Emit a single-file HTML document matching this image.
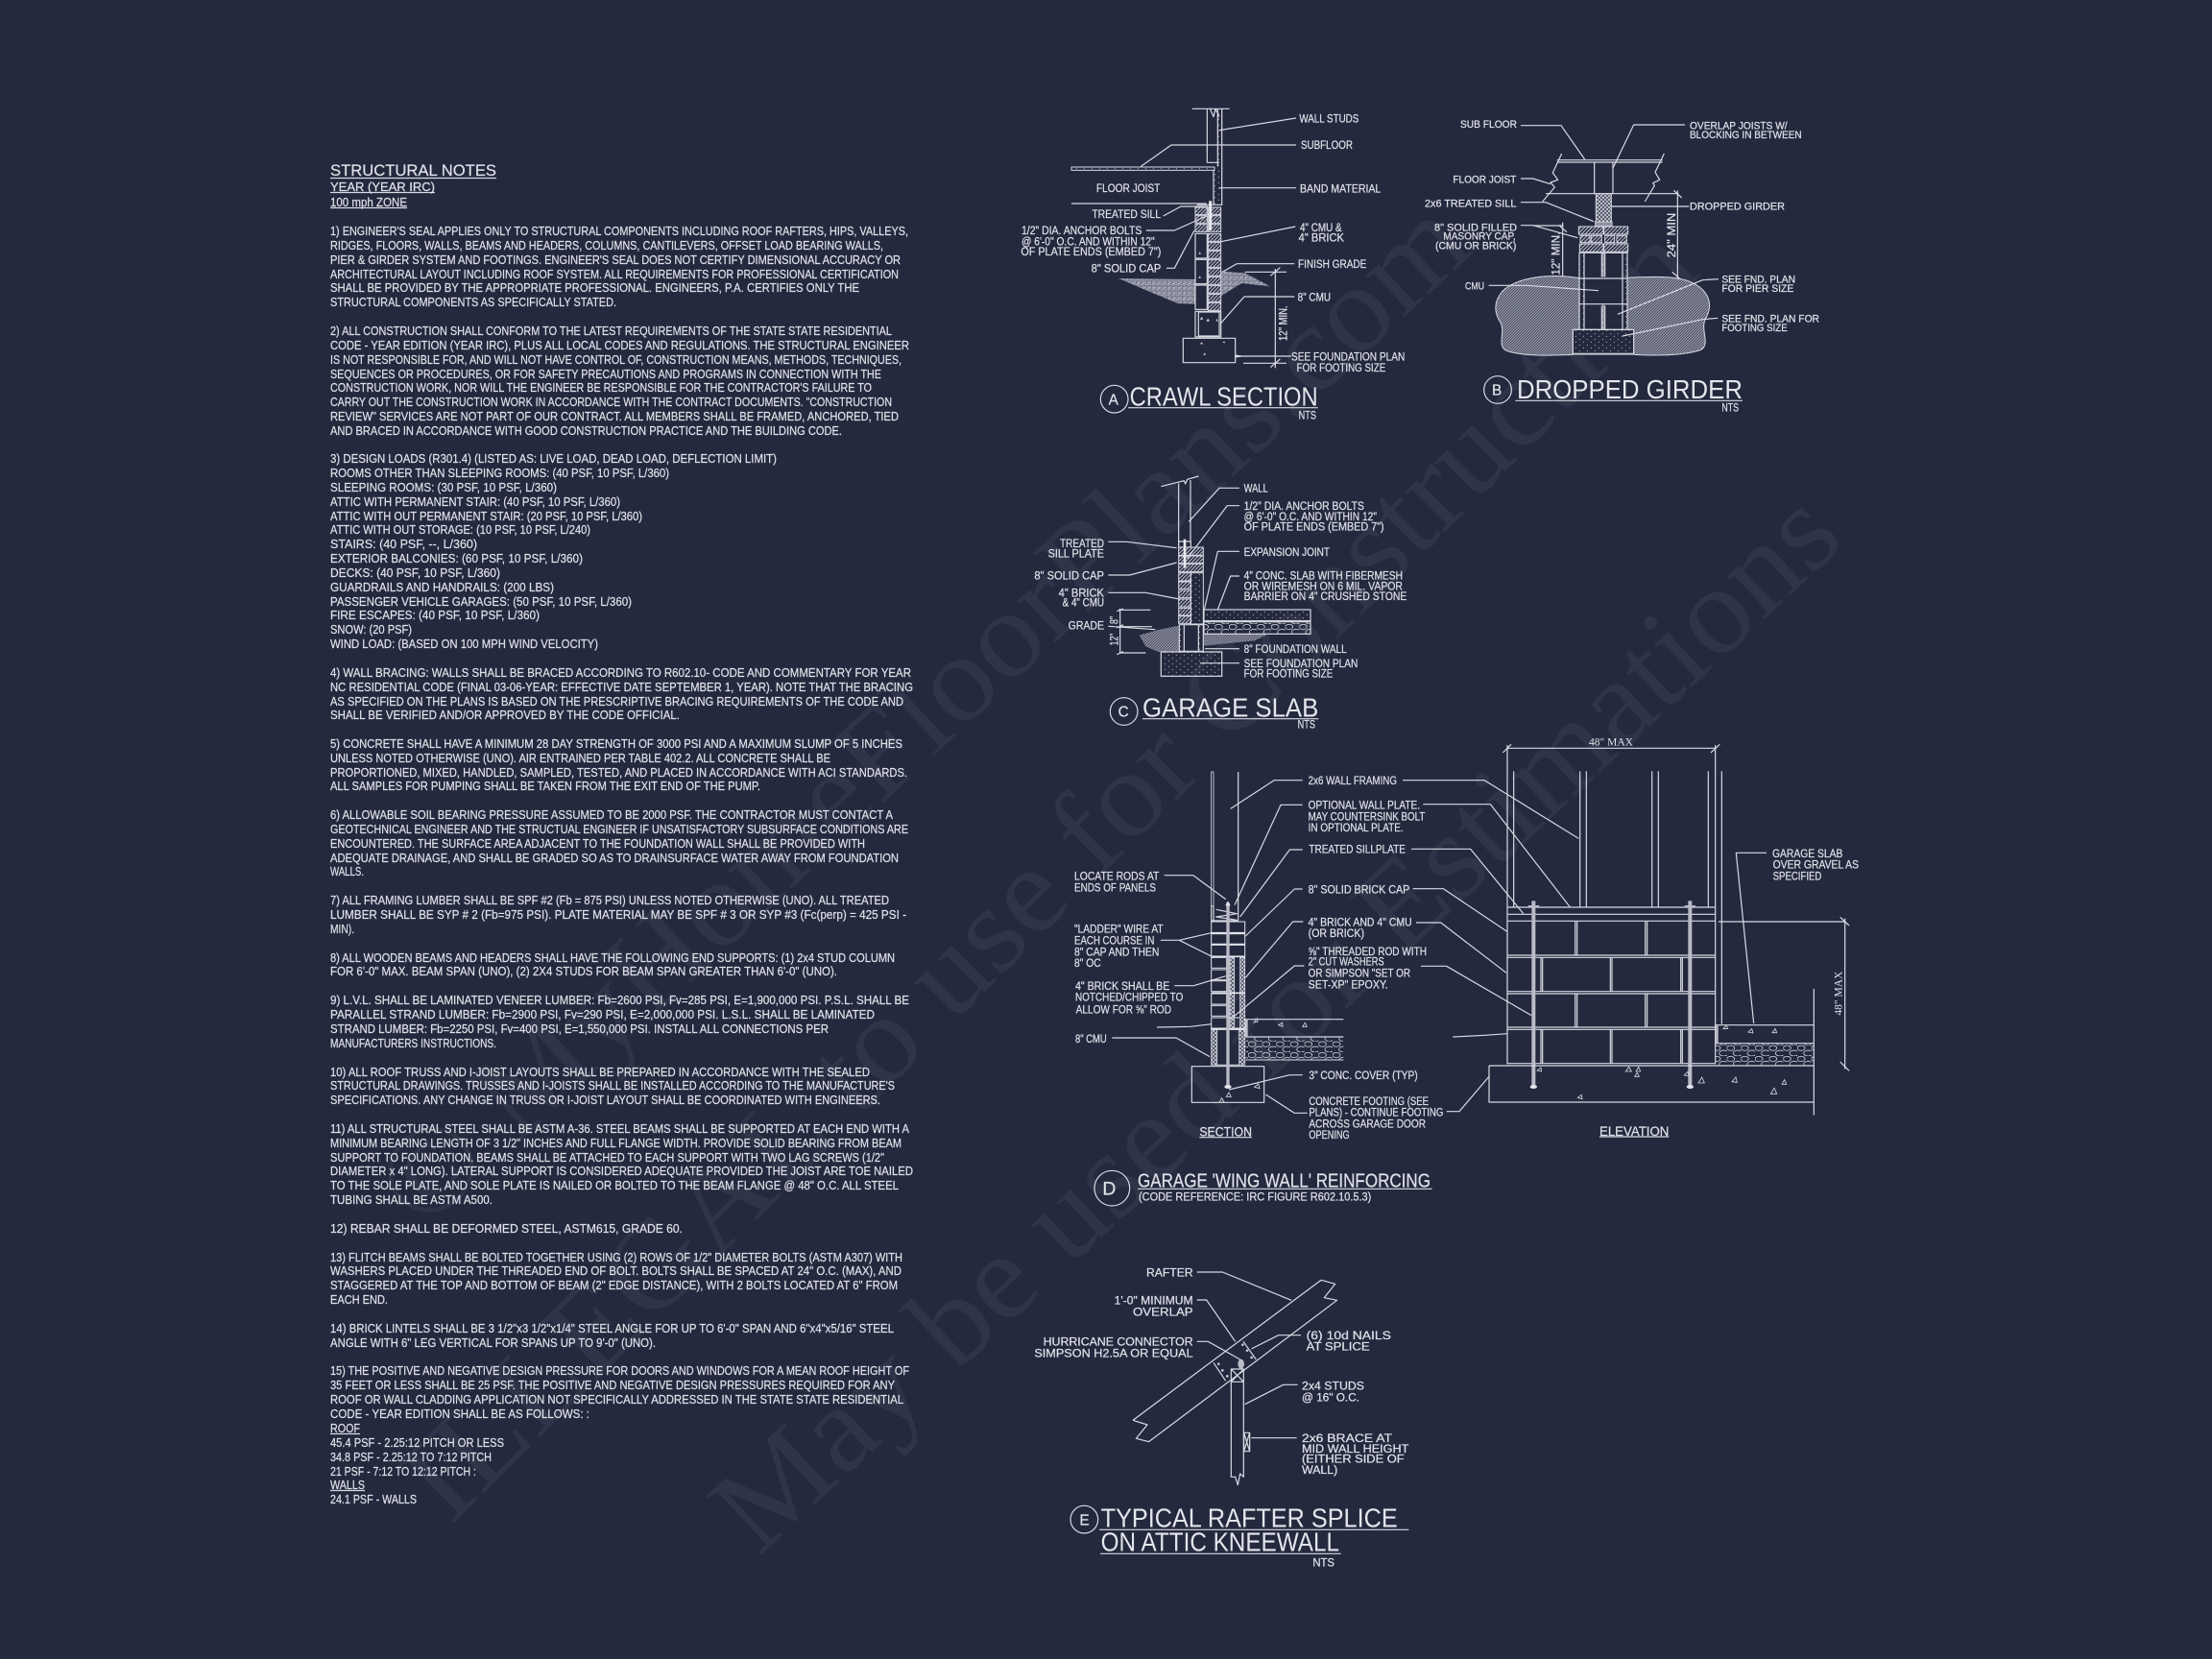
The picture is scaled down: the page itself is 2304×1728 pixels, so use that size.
<!DOCTYPE html>
<html><head><meta charset="utf-8"><title>Structural Notes and Details</title>
<style>
html,body{margin:0;padding:0;background:#24293e}
svg{display:block}
text{font-family:"Liberation Sans",sans-serif;fill:#dfe1e8}
.wm text{font-family:"Liberation Serif",serif;fill:#2f3448;font-size:128px}
.n text{font-size:12.8px;stroke:#dfe1e8;stroke-width:.22px}
.d{fill:none;stroke:#d8dae2;stroke-width:3.6;stroke-linejoin:round}
.z text{font-size:37px;stroke:#dfe1e8;stroke-width:.7px}
.z text.t{font-size:84px!important;fill:#e4e6ec;stroke:none}
.z text.ser{font-family:"Liberation Serif",serif!important;font-size:36px;stroke:none}
</style></head><body>
<svg xmlns="http://www.w3.org/2000/svg" width="2304" height="1728" viewBox="0 0 2304 1728">
<defs>
<pattern id="h" width="8" height="8" patternUnits="userSpaceOnUse" patternTransform="rotate(45)"><rect width="8" height="8" fill="#24293e"/><rect width="3" height="8" fill="#c8cad4"/></pattern>
<pattern id="s" width="6" height="6" patternUnits="userSpaceOnUse" patternTransform="rotate(45)"><rect width="6" height="6" fill="#3f4358"/><rect width="2.600" height="6" fill="#b4b6c2"/></pattern>
<pattern id="b" width="16" height="16" patternUnits="userSpaceOnUse"><rect width="16" height="16" fill="#6c6f82"/><path d="M0 4H8M0 8H8M8 0V8M12 0V8M8 12H16M0 8V16M4 8V16" stroke="#bfc1cb" stroke-width="2" fill="none"/></pattern>
<pattern id="c" width="44" height="34" patternUnits="userSpaceOnUse"><ellipse cx="12" cy="9" rx="12" ry="8" fill="none" stroke="#d0d2da" stroke-width="2.5"/><ellipse cx="34" cy="25" rx="14" ry="9" fill="none" stroke="#d0d2da" stroke-width="2.5"/></pattern>
<pattern id="p" width="24" height="18" patternUnits="userSpaceOnUse"><circle cx="4" cy="5" r="1.6" fill="#d0d2da"/><circle cx="16" cy="13" r="1.6" fill="#d0d2da"/></pattern>
<pattern id="x" width="12" height="12" patternUnits="userSpaceOnUse"><rect width="12" height="12" fill="#3e4257"/><path d="M0 0L12 12M12 0L0 12" stroke="#d0d2da" stroke-width="2.5"/></pattern>
</defs>
<rect width="2304" height="1728" fill="#24293e"/>
<g class="wm">
<text transform="translate(440,1284) rotate(-43)" textLength="1500" lengthAdjust="spacingAndGlyphs">© MyHomeFloorPlans.com</text>
<text transform="translate(469,1590) rotate(-45)" textLength="1845" lengthAdjust="spacingAndGlyphs">ILLEGAL to use for Construction</text>
<text transform="translate(790,1622) rotate(-43)" textLength="1550" lengthAdjust="spacingAndGlyphs">May be used for Estimations</text>
</g>

<g class="n">
<text x="344" y="183" style="font-size:17px" textLength="173" lengthAdjust="spacingAndGlyphs">STRUCTURAL NOTES</text>
<path d="M344 185.500H517M344 200.500H453M344 216.500H424M344 1493.500H375M344 1552.500H380" stroke="#d8dae2" stroke-width="1.200"/>
<text x="344" y="199" textLength="109" lengthAdjust="spacingAndGlyphs">YEAR  (YEAR IRC)</text>
<text x="344" y="215" textLength="80" lengthAdjust="spacingAndGlyphs">100 mph ZONE</text>
<text x="344" y="245" textLength="602" lengthAdjust="spacingAndGlyphs">1) ENGINEER'S SEAL APPLIES ONLY TO STRUCTURAL COMPONENTS INCLUDING ROOF RAFTERS, HIPS, VALLEYS,</text>
<text x="344" y="260" textLength="576" lengthAdjust="spacingAndGlyphs">RIDGES, FLOORS, WALLS, BEAMS AND HEADERS, COLUMNS, CANTILEVERS, OFFSET LOAD BEARING WALLS,</text>
<text x="344" y="275" textLength="594" lengthAdjust="spacingAndGlyphs">PIER &amp; GIRDER SYSTEM AND FOOTINGS. ENGINEER'S SEAL DOES NOT CERTIFY DIMENSIONAL ACCURACY OR</text>
<text x="344" y="290" textLength="592" lengthAdjust="spacingAndGlyphs">ARCHITECTURAL LAYOUT INCLUDING ROOF SYSTEM. ALL REQUIREMENTS FOR PROFESSIONAL CERTIFICATION</text>
<text x="344" y="304" textLength="551" lengthAdjust="spacingAndGlyphs">SHALL BE PROVIDED BY THE APPROPRIATE PROFESSIONAL.  ENGINEERS, P.A. CERTIFIES ONLY THE</text>
<text x="344" y="319" textLength="298" lengthAdjust="spacingAndGlyphs">STRUCTURAL COMPONENTS AS SPECIFICALLY STATED.</text>
<text x="344" y="349" textLength="585" lengthAdjust="spacingAndGlyphs">2) ALL CONSTRUCTION SHALL CONFORM TO THE LATEST REQUIREMENTS OF THE STATE STATE RESIDENTIAL</text>
<text x="344" y="364" textLength="603" lengthAdjust="spacingAndGlyphs">CODE - YEAR EDITION (YEAR IRC), PLUS ALL LOCAL CODES AND REGULATIONS. THE STRUCTURAL ENGINEER</text>
<text x="344" y="379" textLength="595" lengthAdjust="spacingAndGlyphs">IS NOT RESPONSIBLE FOR, AND WILL NOT HAVE CONTROL OF, CONSTRUCTION MEANS, METHODS, TECHNIQUES,</text>
<text x="344" y="394" textLength="574" lengthAdjust="spacingAndGlyphs">SEQUENCES OR PROCEDURES, OR FOR SAFETY PRECAUTIONS AND PROGRAMS IN CONNECTION WITH THE</text>
<text x="344" y="408" textLength="564" lengthAdjust="spacingAndGlyphs">CONSTRUCTION WORK, NOR WILL THE ENGINEER BE RESPONSIBLE FOR THE CONTRACTOR'S FAILURE TO</text>
<text x="344" y="423" textLength="585" lengthAdjust="spacingAndGlyphs">CARRY OUT THE CONSTRUCTION WORK IN ACCORDANCE WITH THE CONTRACT DOCUMENTS. "CONSTRUCTION</text>
<text x="344" y="438" textLength="592" lengthAdjust="spacingAndGlyphs">REVIEW" SERVICES ARE NOT PART OF OUR CONTRACT. ALL MEMBERS SHALL BE FRAMED, ANCHORED, TIED</text>
<text x="344" y="453" textLength="533" lengthAdjust="spacingAndGlyphs">AND BRACED IN ACCORDANCE WITH GOOD CONSTRUCTION PRACTICE AND THE BUILDING CODE.</text>
<text x="344" y="482" textLength="465" lengthAdjust="spacingAndGlyphs">3) DESIGN LOADS (R301.4) (LISTED AS: LIVE LOAD, DEAD LOAD, DEFLECTION LIMIT)</text>
<text x="344" y="497" textLength="353" lengthAdjust="spacingAndGlyphs">ROOMS OTHER THAN SLEEPING ROOMS: (40 PSF, 10 PSF, L/360)</text>
<text x="344" y="512" textLength="236" lengthAdjust="spacingAndGlyphs">SLEEPING ROOMS: (30 PSF, 10 PSF, L/360)</text>
<text x="344" y="527" textLength="302" lengthAdjust="spacingAndGlyphs">ATTIC WITH PERMANENT STAIR: (40 PSF, 10 PSF, L/360)</text>
<text x="344" y="542" textLength="325" lengthAdjust="spacingAndGlyphs">ATTIC WITH OUT PERMANENT STAIR: (20 PSF, 10 PSF, L/360)</text>
<text x="344" y="556" textLength="271" lengthAdjust="spacingAndGlyphs">ATTIC WITH OUT STORAGE: (10 PSF, 10 PSF, L/240)</text>
<text x="344" y="571" textLength="153" lengthAdjust="spacingAndGlyphs">STAIRS: (40 PSF, --, L/360)</text>
<text x="344" y="586" textLength="263" lengthAdjust="spacingAndGlyphs">EXTERIOR BALCONIES: (60 PSF, 10 PSF, L/360)</text>
<text x="344" y="601" textLength="177" lengthAdjust="spacingAndGlyphs">DECKS: (40 PSF, 10 PSF, L/360)</text>
<text x="344" y="616" textLength="233" lengthAdjust="spacingAndGlyphs">GUARDRAILS AND HANDRAILS: (200 LBS)</text>
<text x="344" y="631" textLength="314" lengthAdjust="spacingAndGlyphs">PASSENGER VEHICLE GARAGES: (50 PSF, 10 PSF, L/360)</text>
<text x="344" y="645" textLength="218" lengthAdjust="spacingAndGlyphs">FIRE ESCAPES: (40 PSF, 10 PSF, L/360)</text>
<text x="344" y="660" textLength="85" lengthAdjust="spacingAndGlyphs">SNOW: (20 PSF)</text>
<text x="344" y="675" textLength="279" lengthAdjust="spacingAndGlyphs">WIND LOAD: (BASED ON 100 MPH WIND VELOCITY)</text>
<text x="344" y="705" textLength="605" lengthAdjust="spacingAndGlyphs">4) WALL BRACING: WALLS SHALL BE BRACED ACCORDING TO R602.10- CODE AND COMMENTARY FOR YEAR</text>
<text x="344" y="720" textLength="607" lengthAdjust="spacingAndGlyphs">NC RESIDENTIAL CODE (FINAL 03-06-YEAR: EFFECTIVE DATE SEPTEMBER 1, YEAR). NOTE THAT THE BRACING</text>
<text x="344" y="735" textLength="597" lengthAdjust="spacingAndGlyphs">AS SPECIFIED ON THE PLANS IS BASED ON THE PRESCRIPTIVE BRACING REQUIREMENTS OF THE CODE AND</text>
<text x="344" y="749" textLength="364" lengthAdjust="spacingAndGlyphs">SHALL BE VERIFIED AND/OR APPROVED BY THE CODE OFFICIAL.</text>
<text x="344" y="779" textLength="596" lengthAdjust="spacingAndGlyphs">5) CONCRETE SHALL HAVE A MINIMUM 28 DAY STRENGTH OF 3000 PSI AND A MAXIMUM SLUMP OF 5 INCHES</text>
<text x="344" y="794" textLength="521" lengthAdjust="spacingAndGlyphs">UNLESS NOTED OTHERWISE (UNO). AIR ENTRAINED PER TABLE 402.2. ALL CONCRETE SHALL BE</text>
<text x="344" y="809" textLength="601" lengthAdjust="spacingAndGlyphs">PROPORTIONED, MIXED, HANDLED, SAMPLED, TESTED, AND PLACED IN ACCORDANCE WITH ACI STANDARDS.</text>
<text x="344" y="823" textLength="448" lengthAdjust="spacingAndGlyphs">ALL SAMPLES FOR PUMPING SHALL BE TAKEN FROM THE EXIT END OF THE PUMP.</text>
<text x="344" y="853" textLength="586" lengthAdjust="spacingAndGlyphs">6) ALLOWABLE SOIL BEARING PRESSURE ASSUMED TO BE 2000 PSF. THE CONTRACTOR MUST CONTACT A</text>
<text x="344" y="868" textLength="602" lengthAdjust="spacingAndGlyphs">GEOTECHNICAL ENGINEER AND THE STRUCTUAL ENGINEER IF UNSATISFACTORY SUBSURFACE CONDITIONS ARE</text>
<text x="344" y="883" textLength="557" lengthAdjust="spacingAndGlyphs">ENCOUNTERED. THE SURFACE AREA ADJACENT TO THE FOUNDATION WALL SHALL BE PROVIDED WITH</text>
<text x="344" y="898" textLength="592" lengthAdjust="spacingAndGlyphs">ADEQUATE DRAINAGE, AND SHALL BE GRADED SO AS TO DRAINSURFACE WATER AWAY FROM FOUNDATION</text>
<text x="344" y="912" textLength="35" lengthAdjust="spacingAndGlyphs">WALLS.</text>
<text x="344" y="942" textLength="582" lengthAdjust="spacingAndGlyphs">7) ALL FRAMING LUMBER SHALL BE SPF #2 (Fb = 875 PSI) UNLESS NOTED OTHERWISE (UNO). ALL TREATED</text>
<text x="344" y="957" textLength="600" lengthAdjust="spacingAndGlyphs">LUMBER SHALL BE SYP # 2 (Fb=975 PSI). PLATE MATERIAL MAY BE SPF # 3 OR SYP #3 (Fc(perp) = 425 PSI -</text>
<text x="344" y="972" textLength="25" lengthAdjust="spacingAndGlyphs">MIN).</text>
<text x="344" y="1002" textLength="588" lengthAdjust="spacingAndGlyphs">8) ALL WOODEN BEAMS AND HEADERS SHALL HAVE THE FOLLOWING END SUPPORTS: (1) 2x4 STUD COLUMN</text>
<text x="344" y="1016" textLength="528" lengthAdjust="spacingAndGlyphs">FOR 6'-0" MAX. BEAM SPAN (UNO), (2) 2X4 STUDS FOR BEAM SPAN GREATER THAN 6'-0" (UNO).</text>
<text x="344" y="1046" textLength="603" lengthAdjust="spacingAndGlyphs">9) L.V.L.  SHALL BE LAMINATED VENEER LUMBER: Fb=2600 PSI, Fv=285 PSI, E=1,900,000 PSI. P.S.L. SHALL BE</text>
<text x="344" y="1061" textLength="567" lengthAdjust="spacingAndGlyphs">PARALLEL STRAND LUMBER: Fb=2900 PSI, Fv=290 PSI, E=2,000,000 PSI. L.S.L.  SHALL BE LAMINATED</text>
<text x="344" y="1076" textLength="519" lengthAdjust="spacingAndGlyphs">STRAND LUMBER: Fb=2250 PSI, Fv=400 PSI, E=1,550,000 PSI. INSTALL ALL CONNECTIONS PER</text>
<text x="344" y="1091" textLength="173" lengthAdjust="spacingAndGlyphs">MANUFACTURERS INSTRUCTIONS.</text>
<text x="344" y="1121" textLength="562" lengthAdjust="spacingAndGlyphs">10) ALL ROOF TRUSS AND I-JOIST LAYOUTS SHALL BE PREPARED IN ACCORDANCE WITH THE SEALED</text>
<text x="344" y="1135" textLength="588" lengthAdjust="spacingAndGlyphs">STRUCTURAL DRAWINGS. TRUSSES AND I-JOISTS SHALL BE INSTALLED ACCORDING TO THE MANUFACTURE'S</text>
<text x="344" y="1150" textLength="573" lengthAdjust="spacingAndGlyphs">SPECIFICATIONS. ANY CHANGE IN TRUSS OR I-JOIST LAYOUT SHALL BE COORDINATED WITH  ENGINEERS.</text>
<text x="344" y="1180" textLength="603" lengthAdjust="spacingAndGlyphs">11) ALL STRUCTURAL STEEL SHALL BE ASTM A-36. STEEL BEAMS SHALL BE SUPPORTED AT EACH END WITH A</text>
<text x="344" y="1195" textLength="595" lengthAdjust="spacingAndGlyphs">MINIMUM BEARING LENGTH OF 3 1/2" INCHES AND FULL FLANGE WIDTH. PROVIDE SOLID BEARING FROM BEAM</text>
<text x="344" y="1210" textLength="577" lengthAdjust="spacingAndGlyphs">SUPPORT TO FOUNDATION.  BEAMS SHALL BE ATTACHED TO EACH SUPPORT WITH TWO LAG SCREWS (1/2"</text>
<text x="344" y="1224" textLength="607" lengthAdjust="spacingAndGlyphs">DIAMETER x 4" LONG). LATERAL SUPPORT IS CONSIDERED ADEQUATE PROVIDED THE JOIST ARE TOE NAILED</text>
<text x="344" y="1239" textLength="592" lengthAdjust="spacingAndGlyphs">TO THE SOLE PLATE, AND SOLE PLATE IS NAILED OR BOLTED TO THE BEAM FLANGE @ 48" O.C. ALL STEEL</text>
<text x="344" y="1254" textLength="169" lengthAdjust="spacingAndGlyphs">TUBING SHALL BE ASTM A500.</text>
<text x="344" y="1284" textLength="367" lengthAdjust="spacingAndGlyphs">12) REBAR SHALL BE DEFORMED STEEL, ASTM615, GRADE 60.</text>
<text x="344" y="1314" textLength="596" lengthAdjust="spacingAndGlyphs">13) FLITCH BEAMS SHALL BE BOLTED TOGETHER USING (2) ROWS OF 1/2" DIAMETER BOLTS (ASTM A307) WITH</text>
<text x="344" y="1328" textLength="595" lengthAdjust="spacingAndGlyphs">WASHERS PLACED UNDER THE THREADED END OF BOLT. BOLTS SHALL BE SPACED AT 24" O.C. (MAX), AND</text>
<text x="344" y="1343" textLength="591" lengthAdjust="spacingAndGlyphs">STAGGERED AT THE TOP AND BOTTOM OF BEAM (2" EDGE DISTANCE), WITH 2 BOLTS LOCATED AT 6" FROM</text>
<text x="344" y="1358" textLength="60" lengthAdjust="spacingAndGlyphs">EACH END.</text>
<text x="344" y="1388" textLength="587" lengthAdjust="spacingAndGlyphs">14) BRICK LINTELS SHALL BE 3 1/2"x3 1/2"x1/4" STEEL ANGLE FOR UP TO 6'-0" SPAN AND 6"x4"x5/16" STEEL</text>
<text x="344" y="1403" textLength="339" lengthAdjust="spacingAndGlyphs">ANGLE WITH 6" LEG VERTICAL FOR SPANS UP TO 9'-0" (UNO).</text>
<text x="344" y="1432" textLength="603" lengthAdjust="spacingAndGlyphs">15) THE POSITIVE AND NEGATIVE DESIGN PRESSURE FOR DOORS AND WINDOWS FOR A MEAN ROOF HEIGHT OF</text>
<text x="344" y="1447" textLength="588" lengthAdjust="spacingAndGlyphs">35 FEET OR LESS SHALL BE 25 PSF. THE POSITIVE AND NEGATIVE DESIGN PRESSURES REQUIRED FOR ANY</text>
<text x="344" y="1462" textLength="597" lengthAdjust="spacingAndGlyphs">ROOF OR WALL CLADDING APPLICATION NOT SPECIFICALLY ADDRESSED IN THE STATE STATE RESIDENTIAL</text>
<text x="344" y="1477" textLength="270" lengthAdjust="spacingAndGlyphs">CODE - YEAR EDITION SHALL BE AS FOLLOWS: :</text>
<text x="344" y="1492" textLength="31" lengthAdjust="spacingAndGlyphs">ROOF</text>
<text x="344" y="1507" textLength="181" lengthAdjust="spacingAndGlyphs">45.4 PSF - 2.25:12 PITCH OR LESS</text>
<text x="344" y="1522" textLength="168" lengthAdjust="spacingAndGlyphs">34.8 PSF - 2.25:12 TO 7:12 PITCH</text>
<text x="344" y="1537" textLength="152" lengthAdjust="spacingAndGlyphs">21 PSF - 7:12 TO 12:12 PITCH :</text>
<text x="344" y="1551" textLength="36" lengthAdjust="spacingAndGlyphs">WALLS</text>
<text x="344" y="1566" textLength="90" lengthAdjust="spacingAndGlyphs">24.1 PSF - WALLS</text>
</g>

<!-- A CRAWL SECTION -->
<g class="z" transform="translate(1040,90) scale(.33333)">
<path d="M375 600L615 603V680L560 678L480 645Z M695 578L770 583L850 625L760 615L695 655Z" fill="url(#b)"/>
<rect x="228" y="252" width="447" height="10" fill="url(#p)" stroke="#d8dae2" stroke-width="3"/>
<path class="d" d="M605 70H722M652 70V238M685 70V250M698 70V250M660 68L672 95L678 70L690 95M652 238H690M672 262V370M698 250V372M228 366H650M620 370H698"/>
<rect x="685" y="70" width="13" height="180" fill="url(#p)"/>
<rect x="672" y="262" width="26" height="108" fill="url(#p)"/>
<g fill="url(#h)" stroke="#d8dae2" stroke-width="3">
<rect x="615" y="378" width="37" height="23"/><rect x="655" y="378" width="40" height="23"/><rect x="615" y="404" width="37" height="23"/><rect x="655" y="404" width="40" height="23"/><rect x="615" y="431" width="37" height="23"/><rect x="655" y="431" width="40" height="23"/>
<rect x="655" y="460" width="40" height="24"/><rect x="655" y="487" width="40" height="24"/><rect x="655" y="514" width="40" height="24"/><rect x="655" y="541" width="40" height="24"/><rect x="655" y="568" width="40" height="24"/><rect x="655" y="595" width="40" height="24"/><rect x="655" y="622" width="40" height="24"/><rect x="655" y="649" width="40" height="24"/><rect x="655" y="676" width="40" height="24"/>
</g>
<rect x="615" y="460" width="37" height="77" class="d"/><rect x="615" y="541" width="37" height="76" fill="#24293e" stroke="#d8dae2" stroke-width="3.6"/><rect x="615" y="621" width="37" height="76" fill="#24293e" stroke="#d8dae2" stroke-width="3.6"/>
<path class="d" d="M615 703H695V783H615ZM625 705H690V780H625Z"/>
<rect x="577" y="787" width="163" height="76" class="d"/>
<path d="M662 358V450" stroke="#e8e9ee" stroke-width="9" fill="none"/>
<path class="d" d="M930 99L690 137M930 183H540L445 250M930 317H690M515 405L570 375H655M462 450H550L650 405M525 568H550L612 450M928 438L695 485M925 554H745L700 580M925 657H768L695 740M915 843H740M865 570V880M770 580H900M765 865H900M850 592L880 566M850 878L880 852"/>
<path d="M630 730l10-3l-6-7zM650 735l10-2l-6-8zM680 735l6-2l-3-8zM625 600l8-2l-4-6zM625 525l8-2l-4-6zM640 840l8-2l-4-6zM630 805l10 0l-6-6zM700 800l8 2l-2-6z" fill="#d8dae2"/>
<path d="M740 838l30 5l-30 5z" fill="#d8dae2"/>
<text x="940" y="112" textLength="186" lengthAdjust="spacingAndGlyphs">WALL STUDS</text>
<text x="945" y="195" textLength="162" lengthAdjust="spacingAndGlyphs">SUBFLOOR</text>
<text x="942" y="332" textLength="253" lengthAdjust="spacingAndGlyphs">BAND MATERIAL</text>
<text x="942" y="453" textLength="131" lengthAdjust="spacingAndGlyphs">4" CMU &amp;</text>
<text x="938" y="485" textLength="142" lengthAdjust="spacingAndGlyphs">4" BRICK</text>
<text x="936" y="567" textLength="214" lengthAdjust="spacingAndGlyphs">FINISH GRADE</text>
<text x="935" y="671" textLength="103" lengthAdjust="spacingAndGlyphs">8" CMU</text>
<text x="915" y="856" textLength="355" lengthAdjust="spacingAndGlyphs">SEE FOUNDATION PLAN</text>
<text x="932" y="891" textLength="278" lengthAdjust="spacingAndGlyphs">FOR FOOTING SIZE</text>
<text x="306" y="330" textLength="199" lengthAdjust="spacingAndGlyphs">FLOOR JOIST</text>
<text x="292" y="411" textLength="215" lengthAdjust="spacingAndGlyphs">TREATED SILL</text>
<text x="72" y="462" textLength="376" lengthAdjust="spacingAndGlyphs">1/2" DIA. ANCHOR BOLTS</text>
<text x="72" y="496" textLength="416" lengthAdjust="spacingAndGlyphs">@ 6'-0" O.C. AND WITHIN 12"</text>
<text x="70" y="528" textLength="438" lengthAdjust="spacingAndGlyphs">OF PLATE ENDS (EMBED 7")</text>
<text x="290" y="580" textLength="218" lengthAdjust="spacingAndGlyphs">8" SOLID CAP</text>
<text transform="translate(901,795) rotate(-90)" textLength="110" lengthAdjust="spacingAndGlyphs">12" MIN.</text>
<circle cx="362" cy="977" r="43" class="d"/>
<text x="344" y="994" style="font-size:46px">A</text>
<text class="t" x="410" y="998" textLength="588" lengthAdjust="spacingAndGlyphs">CRAWL SECTION</text>
<path class="d" d="M405 1004H998"/>
<text x="938" y="1039" textLength="55" lengthAdjust="spacingAndGlyphs">NTS</text>
</g>

<!-- B DROPPED GIRDER -->
<g class="z" transform="translate(1500,100) scale(.33333)">
<path d="M430 568C340 555 240 565 195 610C165 645 170 680 190 710C205 745 170 790 220 800C280 815 350 810 415 808H605C680 812 760 810 810 795C850 780 810 730 830 695C855 650 840 605 780 580C730 560 650 565 585 568V730H415V808H435V568Z" fill="url(#s)" stroke="#d8dae2" stroke-width="3"/>
<rect x="435" y="568" width="150" height="165" fill="#24293e"/>
<rect x="415" y="730" width="190" height="78" fill="#24293e"/>
<path class="d" d="M365 200H695M365 207H695M482 207V305M540 207V305M330 305H670M380 180L352 240L368 262L345 270L358 285L320 330M700 180L672 238L686 262L665 272L670 280L640 330"/>
<rect x="487" y="305" width="48" height="90" fill="url(#x)" stroke="#d8dae2" stroke-width="3"/>
<rect x="485" y="393" width="52" height="14" fill="#8f92a0" stroke="#d8dae2" stroke-width="3"/>
<g fill="url(#h)" stroke="#d8dae2" stroke-width="3">
<rect x="433" y="408" width="77" height="24"/><rect x="512" y="408" width="75" height="24"/>
<rect x="438" y="436" width="30" height="22"/><rect x="472" y="436" width="33" height="22"/><rect x="515" y="436" width="30" height="22"/><rect x="552" y="436" width="31" height="22"/>
<rect x="436" y="462" width="74" height="25"/><rect x="512" y="462" width="75" height="25"/>
</g>
<path class="d" d="M435 490H585V730H435ZM510 490V565M510 650V730M435 570H585M435 650H585M450 490V730M505 490V565M515 490V565M570 490V730M505 655V730M515 655V730"/>
<path d="M437 490h13v240h-13zM571 490h13v240h-13zM505 490h10v75h-10zM505 655h10v75h-10z" fill="url(#p)"/>
<rect x="415" y="730" width="190" height="75" fill="url(#p)" stroke="#d8dae2" stroke-width="3.6"/>
<path class="d" d="M252 92H378L452 198M765 90H605L540 225M252 258H290L345 275M252 332H330L480 392M252 404H290L430 443M152 592H270L495 608M778 345H535M870 572L820 575L555 682M868 694L820 698L570 750M742 295V570M670 305H745M730 295L755 318M725 550L750 572M383 395V565M370 403L396 425M290 405H385"/>
<text x="63" y="99" style="font-size:32px" textLength="177" lengthAdjust="spacingAndGlyphs">SUB FLOOR</text>
<text x="780" y="103" style="font-size:32px" textLength="305" lengthAdjust="spacingAndGlyphs">OVERLAP JOISTS W/</text>
<text x="780" y="132" style="font-size:32px" textLength="350" lengthAdjust="spacingAndGlyphs">BLOCKING IN BETWEEN</text>
<text x="40" y="272" style="font-size:32px" textLength="198" lengthAdjust="spacingAndGlyphs">FLOOR JOIST</text>
<text x="-48" y="346" style="font-size:32px" textLength="286" lengthAdjust="spacingAndGlyphs">2x6 TREATED SILL</text>
<text x="-18" y="422" style="font-size:32px" textLength="258" lengthAdjust="spacingAndGlyphs">8" SOLID FILLED</text>
<text x="10" y="449" style="font-size:32px" textLength="226" lengthAdjust="spacingAndGlyphs">MASONRY CAP,</text>
<text x="-15" y="478" style="font-size:32px" textLength="253" lengthAdjust="spacingAndGlyphs">(CMU OR BRICK)</text>
<text x="78" y="605" style="font-size:32px" textLength="60" lengthAdjust="spacingAndGlyphs">CMU</text>
<text x="780" y="356" style="font-size:32px" textLength="297" lengthAdjust="spacingAndGlyphs">DROPPED GIRDER</text>
<text x="880" y="584" style="font-size:32px" textLength="230" lengthAdjust="spacingAndGlyphs">SEE FND. PLAN</text>
<text x="880" y="612" style="font-size:32px" textLength="225" lengthAdjust="spacingAndGlyphs">FOR PIER SIZE</text>
<text x="880" y="706" style="font-size:32px" textLength="305" lengthAdjust="spacingAndGlyphs">SEE FND. PLAN FOR</text>
<text x="880" y="735" style="font-size:32px" textLength="205" lengthAdjust="spacingAndGlyphs">FOOTING SIZE</text>
<text transform="translate(735,505) rotate(-90)" textLength="140" lengthAdjust="spacingAndGlyphs">24" MIN</text>
<text transform="translate(373,560) rotate(-90)" textLength="135" lengthAdjust="spacingAndGlyphs">12" MIN.</text>
<circle cx="180" cy="918" r="43" class="d"/>
<text x="162" y="935" style="font-size:46px">B</text>
<text class="t" x="240" y="945" textLength="705" lengthAdjust="spacingAndGlyphs">DROPPED GIRDER</text>
<path class="d" d="M235 952H945"/>
<text x="880" y="986" textLength="53" lengthAdjust="spacingAndGlyphs">NTS</text>
</g>

<!-- C GARAGE SLAB -->
<g class="z" transform="translate(1060,480) scale(.33333)">
<path d="M503 515L440 528L380 545L400 580L440 597H505ZM582 543H780L740 562L582 578Z" fill="url(#s)"/>
<path class="d" d="M503 70V270M540 60V252M448 80L520 62L524 72L530 58L565 48"/>
<rect x="503" y="252" width="38" height="18" class="d"/>
<g fill="url(#h)" stroke="#d8dae2" stroke-width="3">
<rect x="503" y="270" width="77" height="25"/><rect x="503" y="297" width="77" height="23"/><rect x="503" y="322" width="77" height="25"/>
<rect x="503" y="350" width="38" height="25"/><rect x="503" y="378" width="38" height="22"/><rect x="503" y="405" width="38" height="23"/><rect x="503" y="432" width="38" height="24"/><rect x="503" y="460" width="38" height="23"/><rect x="503" y="485" width="38" height="23"/>
</g>
<rect x="541" y="350" width="39" height="160" fill="url(#p)" stroke="#d8dae2" stroke-width="3"/>
<path class="d" d="M505 512H580V595H505ZM520 512V595M565 512V595"/>
<rect x="505" y="512" width="15" height="83" fill="url(#p)"/><rect x="565" y="512" width="15" height="83" fill="url(#p)"/>
<rect x="448" y="597" width="190" height="76" fill="url(#p)" stroke="#d8dae2" stroke-width="3.6"/>
<rect x="582" y="465" width="333" height="35" fill="url(#p)" stroke="#d8dae2" stroke-width="3.6"/>
<rect x="582" y="503" width="333" height="38" fill="url(#c)" stroke="#d8dae2" stroke-width="3.6"/>
<path d="M522 245V335" stroke="#e8e9ee" stroke-width="8" fill="none"/>
<path class="d" d="M693 85H630L535 190M693 140H655L530 305M283 253H340L497 272M283 357H350L497 318M283 412H400L505 432M693 283H625L583 465M693 360H665L625 465M693 587H585M693 632H570M320 462V600M315 466H415M315 518H420M320 600H400M310 470L330 462M310 522L330 512M310 605L330 596M283 517L430 527"/>
<text x="707" y="98" textLength="75" lengthAdjust="spacingAndGlyphs">WALL</text>
<text x="707" y="153" textLength="376" lengthAdjust="spacingAndGlyphs">1/2" DIA. ANCHOR BOLTS</text>
<text x="707" y="186" textLength="415" lengthAdjust="spacingAndGlyphs">@ 6'-0" O.C. AND WITHIN 12"</text>
<text x="707" y="218" textLength="438" lengthAdjust="spacingAndGlyphs">OF PLATE ENDS (EMBED 7")</text>
<text x="132" y="270" textLength="138" lengthAdjust="spacingAndGlyphs">TREATED</text>
<text x="95" y="301" textLength="175" lengthAdjust="spacingAndGlyphs">SILL PLATE</text>
<text x="52" y="370" textLength="218" lengthAdjust="spacingAndGlyphs">8" SOLID CAP</text>
<text x="128" y="424" textLength="142" lengthAdjust="spacingAndGlyphs">4" BRICK</text>
<text x="140" y="455" textLength="130" lengthAdjust="spacingAndGlyphs">&amp; 4" CMU</text>
<text x="707" y="297" textLength="268" lengthAdjust="spacingAndGlyphs">EXPANSION JOINT</text>
<text x="707" y="371" textLength="496" lengthAdjust="spacingAndGlyphs">4" CONC. SLAB WITH FIBERMESH</text>
<text x="707" y="403" textLength="496" lengthAdjust="spacingAndGlyphs">OR WIREMESH ON 6 MIL. VAPOR</text>
<text x="707" y="435" textLength="509" lengthAdjust="spacingAndGlyphs">BARRIER ON 4" CRUSHED STONE</text>
<text x="158" y="526" textLength="112" lengthAdjust="spacingAndGlyphs">GRADE</text>
<text x="707" y="600" textLength="321" lengthAdjust="spacingAndGlyphs">8" FOUNDATION WALL</text>
<text x="707" y="645" textLength="356" lengthAdjust="spacingAndGlyphs">SEE FOUNDATION PLAN</text>
<text x="707" y="677" textLength="278" lengthAdjust="spacingAndGlyphs">FOR FOOTING SIZE</text>
<text transform="translate(314,510) rotate(-90)" textLength="24" lengthAdjust="spacingAndGlyphs">8"</text>
<text transform="translate(314,577) rotate(-90)" textLength="38" lengthAdjust="spacingAndGlyphs">12"</text>
<circle cx="332" cy="783" r="43" class="d"/>
<text x="314" y="800" style="font-size:46px">C</text>
<text class="t" x="390" y="799" textLength="550" lengthAdjust="spacingAndGlyphs">GARAGE SLAB</text>
<path class="d" d="M390 806H940"/>
<text x="875" y="836" textLength="55" lengthAdjust="spacingAndGlyphs">NTS</text>
</g>

<!-- D SECTION -->
<g class="z" transform="translate(1080,790) scale(.33333)">
<rect x="545" y="42" width="7" height="418" fill="url(#p)" stroke="#d8dae2" stroke-width="2.500"/>
<path class="d" d="M629 42V505M545 460V510M552 460V505M545 507H630M560 472L625 485L560 495L625 505"/>
<g fill="none" stroke="#d8dae2" stroke-width="3.2">
<rect x="545" y="510" width="105" height="35"/><rect x="545" y="548" width="105" height="32"/><rect x="545" y="583" width="105" height="35"/>
<rect x="545" y="622" width="48" height="33"/><rect x="545" y="660" width="48" height="32"/><rect x="545" y="695" width="48" height="33"/><rect x="545" y="735" width="48" height="33"/><rect x="545" y="772" width="48" height="33"/><rect x="545" y="810" width="105" height="33"/>
</g>
<g fill="url(#x)" stroke="#d8dae2" stroke-width="2.500">
<rect x="603" y="622" width="14" height="221"/><rect x="635" y="622" width="15" height="221"/><rect x="545" y="845" width="18" height="113"/><rect x="632" y="845" width="18" height="113"/>
</g>
<path d="M545 545H650M545 581H650M545 619H650M545 733H650M545 846H650" stroke="#e4e6ec" stroke-width="5" fill="none"/>
<path class="d" d="M563 958H632"/>
<rect x="484" y="962" width="226" height="113" class="d"/>
<path d="M597 450V1025" stroke="#b9bbc6" stroke-width="10" fill="none"/>
<ellipse cx="597" cy="1026" rx="11" ry="6" fill="#e4e6ec"/>
<path d="M597 445l8 15h-16z" fill="#e4e6ec"/>
<path class="d" d="M650 815H958M650 870H958"/>
<rect x="651" y="815" width="8" height="55" fill="#c0c2cc"/>
<rect x="652" y="872" width="306" height="70" fill="url(#c)"/>
<path d="M652 942H958" stroke="#d8dae2" stroke-width="3"/>
<path d="M678 825l12 -2l-3 -10zM755 833l13 5l-1 -12zM830 838l14 0l-6 -12zM680 1027l16 4l-4 -14zM592 1057l15 0l-7 -13zM570 1074l15 0l-7 -13z" fill="none" stroke="#d8dae2" stroke-width="2.500"/>
<path class="d" d="M830 68H742L605 157M830 145H762L618 458M830 285H790L635 495M830 408H805L652 555M832 510H800L652 685M835 648H805L605 815M398 365H488L590 440M387 568H445L545 545M445 568L545 618M430 710H490L590 680M375 840L480 838L545 830M235 873H435L540 932M830 989H790L600 1035M845 1108H805L715 1050"/>
<path class="d" d="M1143 68H1398L1693 250M1207 143H1417L1665 463M1170 283H1355L1520 485M1175 407H1270L1468 540M1185 513H1262L1467 670M1200 649H1280L1545 803M1300 870L1400 865L1470 860M1280 1103H1320L1412 995"/>
<text x="848" y="81" textLength="277" lengthAdjust="spacingAndGlyphs">2x6 WALL FRAMING</text>
<text x="848" y="158" textLength="349" lengthAdjust="spacingAndGlyphs">OPTIONAL WALL PLATE.</text>
<text x="848" y="193" textLength="365" lengthAdjust="spacingAndGlyphs">MAY COUNTERSINK BOLT</text>
<text x="848" y="228" textLength="297" lengthAdjust="spacingAndGlyphs">IN OPTIONAL PLATE.</text>
<text x="850" y="295" textLength="302" lengthAdjust="spacingAndGlyphs">TREATED SILLPLATE</text>
<text x="848" y="421" textLength="317" lengthAdjust="spacingAndGlyphs">8" SOLID BRICK CAP</text>
<text x="848" y="523" textLength="324" lengthAdjust="spacingAndGlyphs">4" BRICK AND 4" CMU</text>
<text x="848" y="558" textLength="175" lengthAdjust="spacingAndGlyphs">(OR BRICK)</text>
<text x="848" y="615" textLength="370" lengthAdjust="spacingAndGlyphs">⅝" THREADED ROD WITH</text>
<text x="848" y="646" textLength="237" lengthAdjust="spacingAndGlyphs">2" CUT WASHERS</text>
<text x="848" y="682" textLength="319" lengthAdjust="spacingAndGlyphs">OR SIMPSON "SET OR</text>
<text x="848" y="718" textLength="249" lengthAdjust="spacingAndGlyphs">SET-XP" EPOXY.</text>
<text x="850" y="1002" textLength="340" lengthAdjust="spacingAndGlyphs">3" CONC. COVER (TYP)</text>
<text x="850" y="1083" textLength="374" lengthAdjust="spacingAndGlyphs">CONCRETE FOOTING (SEE</text>
<text x="850" y="1118" textLength="420" lengthAdjust="spacingAndGlyphs">PLANS) - CONTINUE FOOTING</text>
<text x="850" y="1153" textLength="365" lengthAdjust="spacingAndGlyphs">ACROSS GARAGE DOOR</text>
<text x="850" y="1188" textLength="127" lengthAdjust="spacingAndGlyphs">OPENING</text>
<text x="117" y="380" textLength="265" lengthAdjust="spacingAndGlyphs">LOCATE RODS AT</text>
<text x="117" y="415" textLength="255" lengthAdjust="spacingAndGlyphs">ENDS OF PANELS</text>
<text x="117" y="545" textLength="278" lengthAdjust="spacingAndGlyphs">"LADDER" WIRE AT</text>
<text x="117" y="581" textLength="250" lengthAdjust="spacingAndGlyphs">EACH COURSE IN</text>
<text x="117" y="616" textLength="265" lengthAdjust="spacingAndGlyphs">8" CAP AND THEN</text>
<text x="117" y="651" textLength="83" lengthAdjust="spacingAndGlyphs">8" OC</text>
<text x="120" y="723" textLength="295" lengthAdjust="spacingAndGlyphs">4" BRICK SHALL BE</text>
<text x="120" y="758" textLength="337" lengthAdjust="spacingAndGlyphs">NOTCHED/CHIPPED TO</text>
<text x="122" y="797" textLength="298" lengthAdjust="spacingAndGlyphs">ALLOW FOR ⅝" ROD</text>
<text x="120" y="888" textLength="98" lengthAdjust="spacingAndGlyphs">8" CMU</text>
<text x="508" y="1180" style="font-size:42px" textLength="164" lengthAdjust="spacingAndGlyphs">SECTION</text>
<path class="d" d="M508 1184H672"/>
<circle cx="235" cy="1343" r="55" class="d"/>
<text x="205" y="1364" style="font-size:58px">D</text>
<text x="315" y="1340" style="font-size:60px" textLength="915" lengthAdjust="spacingAndGlyphs">GARAGE 'WING WALL' REINFORCING</text>
<path class="d" d="M315 1345H1235"/>
<text x="318" y="1381" textLength="727" lengthAdjust="spacingAndGlyphs">(CODE REFERENCE: IRC FIGURE R602.10.5.3)</text>
</g>

<!-- D ELEVATION -->
<g class="z" transform="translate(1520,760) scale(.33333)">
<path class="d" d="M148 58H800M136 72L162 46M786 72L814 46M150 48V1045M800 48V1045M170 130V555M377 130V555M397 130V555M602 130V555M622 130V555M778 130V555M820 130V920"/>
<path class="d" d="M150 555H800M150 577H800M150 598H800M150 705H800M150 712H800M150 818H800M150 825H800M150 930H800M150 937H800M150 1043H800M362 600V705M368 600V705M581 600V705M587 600V705M255 712V818M260 712V818M472 712V818M477 712V818M692 712V818M697 712V818M362 825V930M368 825V930M581 825V930M587 825V930M255 937V1043M260 937V1043M472 937V1043M477 937V1043M692 937V1043M697 937V1043"/>
<path d="M232 535V1115M721 535V1115" stroke="#b9bbc6" stroke-width="12" fill="none"/>
<path d="M215 552H250M704 552H738" stroke="#b9bbc6" stroke-width="6"/>
<ellipse cx="232" cy="1116" rx="11" ry="6" fill="#e4e6ec"/><ellipse cx="721" cy="1116" rx="11" ry="6" fill="#e4e6ec"/>
<path class="d" d="M93 1050H1108M93 1050V1164H1108M1108 810V1205M800 923H1108M800 980H1108M810 600H1205M1205 590V1060M1190 586L1218 612M1190 1038L1218 1066"/>
<rect x="802" y="925" width="7" height="55" fill="#c0c2cc"/>
<rect x="800" y="982" width="308" height="66" fill="url(#c)"/>
<path d="M825 935l14 -1l-5 -10zM903 945l15 3l-4 -13zM978 947l14 0l-5 -13zM243 1065l14 3l-2 -12zM520 1068l18 0l-8 -14zM552 1068l14 0l-6 -14zM548 1084l14 0l-6 -12zM703 1080l14 2l-3 -13zM747 1104l19 0l-8 -18zM852 1100l16 2l-4 -16zM1008 1108l14 0l-6 -14zM973 1138l19 0l-8 -18zM370 1150l14 4l-2 -13z" fill="none" stroke="#d8dae2" stroke-width="2.500"/>
<path class="d" d="M960 385H865L920 918"/>
<text class="ser" x="405" y="49" textLength="138" lengthAdjust="spacingAndGlyphs">48" MAX</text>
<text class="ser" transform="translate(1195,893) rotate(-90)" textLength="138" lengthAdjust="spacingAndGlyphs">48" MAX</text>
<text x="978" y="399" textLength="220" lengthAdjust="spacingAndGlyphs">GARAGE SLAB</text>
<text x="980" y="433" textLength="268" lengthAdjust="spacingAndGlyphs">OVER GRAVEL AS</text>
<text x="980" y="469" textLength="152" lengthAdjust="spacingAndGlyphs">SPECIFIED</text>
<text x="438" y="1269" style="font-size:42px" textLength="217" lengthAdjust="spacingAndGlyphs">ELEVATION</text>
<path class="d" d="M438 1272H655"/>
</g>

<!-- E RAFTER -->
<g class="z" transform="translate(1060,1290) scale(.33333)">
<path class="d" d="M360 568L948 130L992 142L958 185L998 193L410 635L370 625L405 582L360 568M612 388L650 445M705 322L745 378"/>
<path class="d" d="M667 408V745L680 745L688 770L695 735L706 745V408H667ZM667 448H706M667 408L706 448M706 408L667 448"/>
<rect x="707" y="607" width="18" height="58" class="d"/>
<path class="d" d="M707 607L725 665M725 607L707 665"/>
<ellipse cx="698" cy="392" rx="10" ry="15" fill="#b9bbc6"/>
<g fill="#c8cad4"><circle cx="628" cy="392" r="4"/><circle cx="640" cy="412" r="4"/><circle cx="655" cy="430" r="4"/><circle cx="703" cy="332" r="4"/><circle cx="717" cy="350" r="4"/><circle cx="731" cy="372" r="4"/></g>
<path class="d" d="M560 105H640L855 193M560 192H590L680 322M560 322H595L695 378M885 302H815L730 345M875 457H830L710 518M872 623H730"/>
<text x="402" y="118" textLength="146" lengthAdjust="spacingAndGlyphs">RAFTER</text>
<text x="302" y="205" textLength="246" lengthAdjust="spacingAndGlyphs">1'-0" MINIMUM</text>
<text x="360" y="241" textLength="188" lengthAdjust="spacingAndGlyphs">OVERLAP</text>
<text x="80" y="335" textLength="468" lengthAdjust="spacingAndGlyphs">HURRICANE CONNECTOR</text>
<text x="52" y="370" textLength="496" lengthAdjust="spacingAndGlyphs">SIMPSON H2.5A OR EQUAL</text>
<text x="902" y="315" textLength="265" lengthAdjust="spacingAndGlyphs">(6) 10d NAILS</text>
<text x="902" y="349" textLength="198" lengthAdjust="spacingAndGlyphs">AT SPLICE</text>
<text x="888" y="473" textLength="195" lengthAdjust="spacingAndGlyphs">2x4 STUDS</text>
<text x="888" y="508" textLength="180" lengthAdjust="spacingAndGlyphs">@ 16" O.C.</text>
<text x="888" y="636" textLength="282" lengthAdjust="spacingAndGlyphs">2x6 BRACE AT</text>
<text x="888" y="669" textLength="334" lengthAdjust="spacingAndGlyphs">MID WALL HEIGHT</text>
<text x="888" y="701" textLength="320" lengthAdjust="spacingAndGlyphs">(EITHER SIDE OF</text>
<text x="888" y="735" textLength="112" lengthAdjust="spacingAndGlyphs">WALL)</text>
<circle cx="208" cy="878" r="43" class="d"/>
<text x="193" y="895" style="font-size:46px">E</text>
<text class="t" x="260" y="902" textLength="927" lengthAdjust="spacingAndGlyphs">TYPICAL RAFTER SPLICE</text>
<path class="d" d="M255 910H1222"/>
<text class="t" x="260" y="977" textLength="745" lengthAdjust="spacingAndGlyphs">ON ATTIC KNEEWALL</text>
<path class="d" d="M258 985H1010"/>
<text x="922" y="1024" textLength="68" lengthAdjust="spacingAndGlyphs">NTS</text>
</g>
</svg>
</body></html>
